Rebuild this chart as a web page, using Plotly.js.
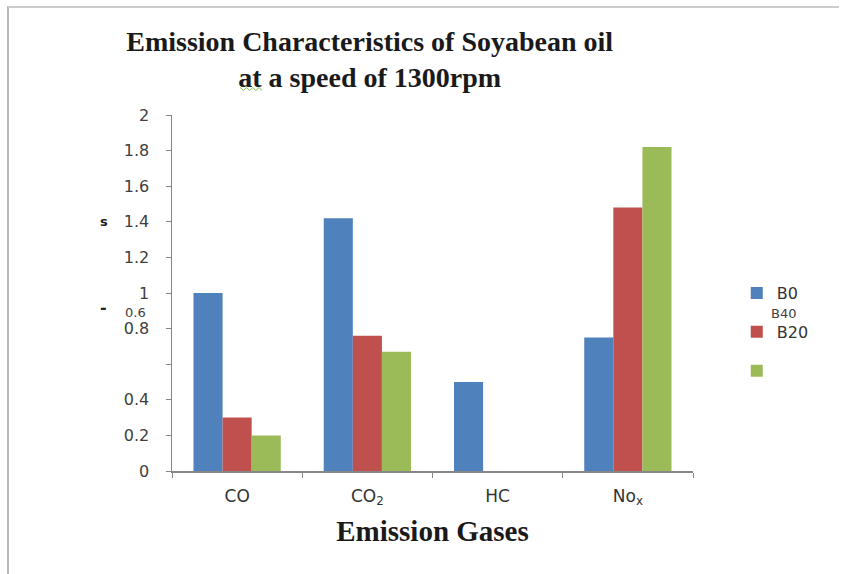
<!DOCTYPE html>
<html>
<head>
<meta charset="utf-8">
<script src="https://cdn.plot.ly/plotly-3.0.1.min.js"></script>
<style>
  html, body { margin: 0; padding: 0; background: #ffffff; }
  #frame { position: absolute; left: 7px; top: 6px; width: 830px; height: 568px;
           border-left: 2px solid #b8b8b8; border-top: 2px solid #cccccc; pointer-events: none; }
  #chart { width: 844px; height: 574px; }
</style>
</head>
<body>
<div id="chart"></div>
<div id="frame"></div>
<script>
const categories = ["CO", "CO<sub>2</sub>", "HC", "No<sub>x</sub>"];
const seriesNames = ["B0", "B20", ""];
const b0Values  = [1.00, 1.42, 0.50, 0.75];
const b20Values = [0.30, 0.76, 0, 1.48];
const b40Values = [0.20, 0.67, 0, 1.82];
const yTickVals = [0, 0.2, 0.4, 0.6, 0.8, 1, 1.2, 1.4, 1.6, 1.8, 2];
const yTickText = ["0", "0.2", "0.4", "", "0.8", "1", "1.2", "1.4", "1.6", "1.8", "2"];

const colors = ["#4f81bd", "#c0504d", "#9bbb59"];
const values = [b0Values, b20Values, b40Values];

const traces = values.map((v, i) => ({
  type: "bar",
  x: categories,
  y: v,
  name: seriesNames[i],
  legendgroup: "g" + i,
  marker: { color: colors[i], line: { width: 0 } },
  hoverinfo: "x+y+name"
}));

const layout = {
  width: 844,
  height: 574,
  paper_bgcolor: "#ffffff",
  plot_bgcolor: "#ffffff",
  margin: { l: 172, r: 151, t: 115, b: 103 },
  barmode: "group",
  bargap: 0.33,
  bargroupgap: 0,
  font: { family: "DejaVu Sans, Verdana, sans-serif", color: "#404040" },
  title: {
    text: "<b>Emission Characteristics of Soyabean oil<br>at a speed of 1300rpm</b>",
    font: { family: "Liberation Serif, Times New Roman, serif", size: 28, color: "#1a1a1a" },
    x: 0.438, xanchor: "center", xref: "container",
    y: 0.912, yanchor: "top", yref: "container"
  },
  xaxis: {
    type: "category",
    showline: true, linecolor: "#878787", linewidth: 1.5,
    ticks: "outside", tickson: "boundaries", ticklen: 5, tickcolor: "#878787",
    tickfont: { size: 17, color: "#333333" },
    ticklabelstandoff: 9,
    showgrid: false, zeroline: false,
    title: {
      text: "<b>Emission Gases</b>",
      font: { family: "Liberation Serif, Times New Roman, serif", size: 29, color: "#1a1a1a" },
      standoff: 13
    }
  },
  yaxis: {
    range: [0, 2],
    tickmode: "array", tickvals: yTickVals, ticktext: yTickText,
    showline: true, linecolor: "#878787", linewidth: 1.5,
    ticks: "outside", ticklen: 5, tickcolor: "#878787",
    tickfont: { size: 16, color: "#404040" },
    ticklabelstandoff: 13,
    showgrid: false, zeroline: false
  },
  showlegend: true,
  legend: {
    x: 1.084, xanchor: "left", y: 0.39, yanchor: "middle",
    font: { size: 16, color: "#333333" },
    tracegroupgap: 15,
    traceorder: "grouped",
    bgcolor: "rgba(0,0,0,0)"
  },
  annotations: [
    { text: "0.6", xref: "paper", yref: "y", x: 0, y: 0.89, xanchor: "right", yanchor: "middle",
      xshift: -24, showarrow: false, font: { size: 13, color: "#404040" } },
    { text: "B40", xref: "paper", yref: "y", x: 1.146, y: 0.885, xanchor: "left", yanchor: "middle",
      showarrow: false, font: { size: 13, color: "#404040" } },
    { text: "<b>s</b>", xref: "paper", yref: "paper", x: -0.131, y: 0.70, xanchor: "center", yanchor: "middle",
      showarrow: false, font: { size: 13, color: "#222222" } },
    { text: "<b>-</b>", xref: "paper", yref: "paper", x: -0.131, y: 0.46, xanchor: "center", yanchor: "middle",
      showarrow: false, font: { size: 16, color: "#222222" } }
  ],
  shapes: [
    { type: "path", xref: "paper", yref: "paper", layer: "above",
      path: "M 0.131 1.077 L 0.137 1.069 L 0.143 1.077 L 0.149 1.069 L 0.155 1.077 L 0.161 1.069 L 0.167 1.077 L 0.173 1.069",
      line: { color: "#7fbf3f", width: 1 } }
  ]
};

Plotly.newPlot("chart", traces, layout, { displayModeBar: false, staticPlot: true });
</script>
</body>
</html>
